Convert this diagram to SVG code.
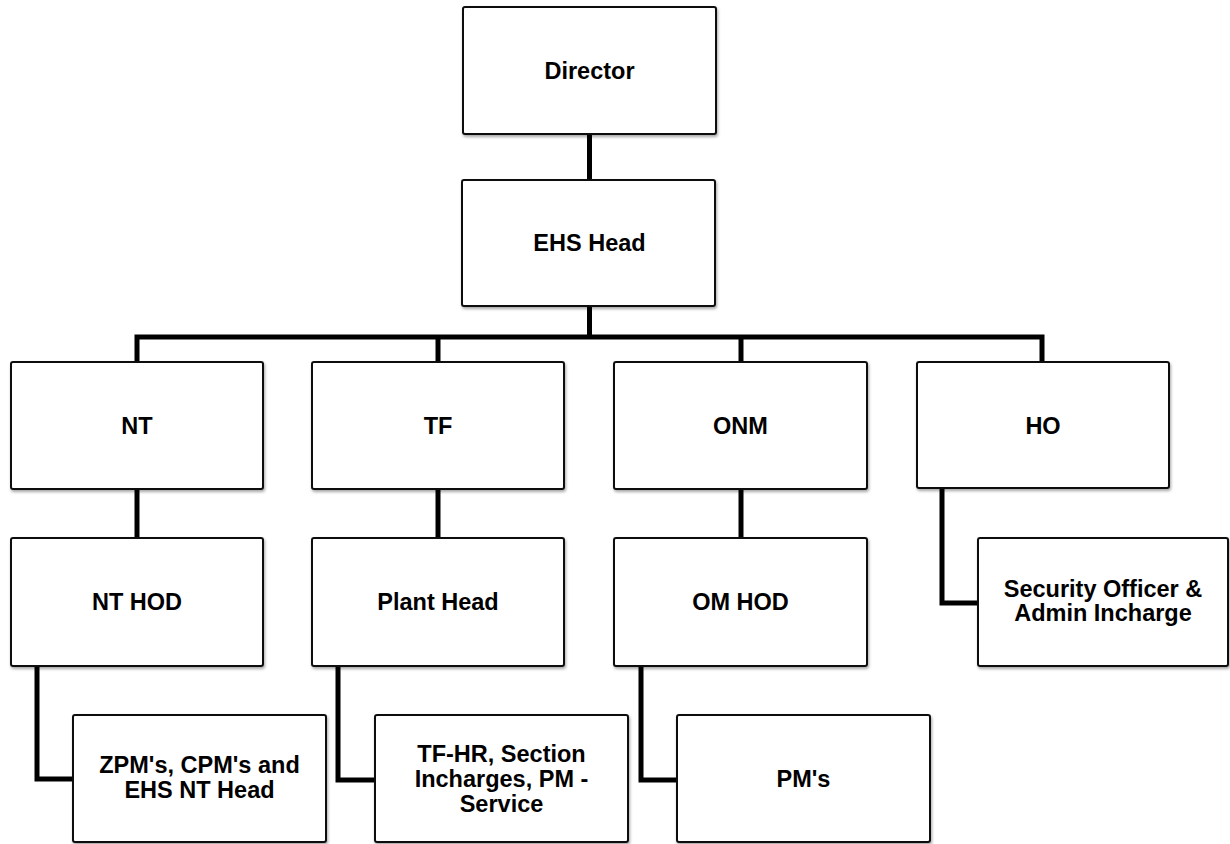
<svg xmlns="http://www.w3.org/2000/svg" width="1230" height="844" viewBox="0 0 1230 844">
<defs>
<filter id="sh" x="-5%" y="-5%" width="112%" height="115%">
<feDropShadow dx="1" dy="2" stdDeviation="1.5" flood-color="#000" flood-opacity="0.35"/>
</filter>
<style>
.box{fill:#fff;stroke:#111;stroke-width:2;filter:url(#sh)}
.lbl{font-family:"Liberation Sans",Arial,sans-serif;font-weight:bold;font-size:23.5px;fill:#000;text-anchor:middle}
.con{fill:none;stroke:#000;stroke-width:5;stroke-linejoin:miter}
</style>
</defs>
<rect width="1230" height="844" fill="#fff"/>
<g id="connectors">
<path class="con" d="M589.5 134 V180"/>
<path class="con" d="M589.5 306 V337"/>
<path class="con" d="M137 362 V337 H1042 V362"/>
<path class="con" d="M438 337 V362"/>
<path class="con" d="M741 337 V362"/>
<path class="con" d="M137 489 V538"/>
<path class="con" d="M438 489 V538"/>
<path class="con" d="M741 489 V538"/>
<path class="con" d="M942 488 V603 H978"/>
<path class="con" d="M37 666 V779 H73"/>
<path class="con" d="M338 666 V780 H375"/>
<path class="con" d="M641 666 V780 H677"/>
</g>
<g id="director"><rect class="box" x="463" y="7" width="253" height="127" rx="2"/><text class="lbl" x="589.5" y="79">Director</text></g>
<g id="ehs-head"><rect class="box" x="462" y="180" width="253" height="126" rx="2"/><text class="lbl" x="589.5" y="251">EHS Head</text></g>
<g id="nt"><rect class="box" x="11" y="362" width="252" height="127" rx="2"/><text class="lbl" x="137" y="434">NT</text></g>
<g id="tf"><rect class="box" x="312" y="362" width="252" height="127" rx="2"/><text class="lbl" x="438" y="434">TF</text></g>
<g id="onm"><rect class="box" x="614" y="362" width="253" height="127" rx="2"/><text class="lbl" x="740.5" y="434">ONM</text></g>
<g id="ho"><rect class="box" x="917" y="362" width="252" height="126" rx="2"/><text class="lbl" x="1043" y="434">HO</text></g>
<g id="nt-hod"><rect class="box" x="11" y="538" width="252" height="128" rx="2"/><text class="lbl" x="137" y="610">NT HOD</text></g>
<g id="plant-head"><rect class="box" x="312" y="538" width="252" height="128" rx="2"/><text class="lbl" x="438" y="610">Plant Head</text></g>
<g id="om-hod"><rect class="box" x="614" y="538" width="253" height="128" rx="2"/><text class="lbl" x="740.5" y="610">OM HOD</text></g>
<g id="security"><rect class="box" x="978" y="538" width="250" height="128" rx="2"/><text class="lbl" x="1103" y="597">Security Officer &amp;</text><text class="lbl" x="1103" y="621">Admin Incharge</text></g>
<g id="zpm"><rect class="box" x="73" y="715" width="253" height="127" rx="2"/><text class="lbl" x="199.5" y="773">ZPM's, CPM's and</text><text class="lbl" x="199.5" y="798">EHS NT Head</text></g>
<g id="tf-hr"><rect class="box" x="375" y="715" width="253" height="127" rx="2"/><text class="lbl" x="501.5" y="762">TF-HR, Section</text><text class="lbl" x="501.5" y="787">Incharges, PM -</text><text class="lbl" x="501.5" y="812">Service</text></g>
<g id="pms"><rect class="box" x="677" y="715" width="253" height="127" rx="2"/><text class="lbl" x="803.5" y="787">PM's</text></g>
</svg>
